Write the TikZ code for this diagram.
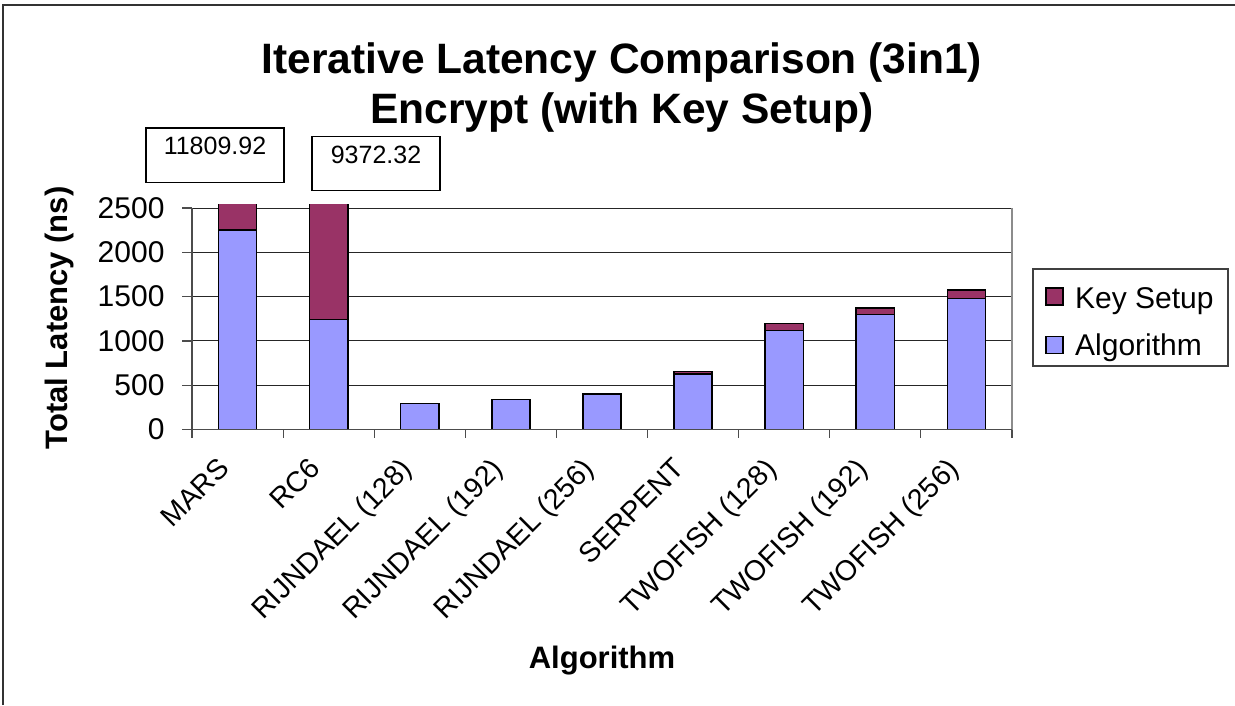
\documentclass[tikz,border=0pt]{standalone}
\usepackage{fontspec}
\setmainfont{Liberation Sans}
\definecolor{keysetup}{HTML}{993366}
\definecolor{algo}{HTML}{9999FF}
\tikzset{
    frame/.style = {
        line width=1.2pt,
        black!80
    },
    grid/.style = {
        line width=1pt,
        black!85
    },
    axis/.style = {
        line width=1.2pt,
        black!70
    },
    border/.style = {
        line width=1.2pt,
        black!45
    },
    algbar/.style = {
        fill=algo,
        draw=black,
        line width=1.6pt
    },
    keybar/.style = {
        fill=keysetup,
        draw=black,
        line width=1.6pt
    },
    heading/.style = {
        anchor=base, inner sep=0pt,
        font=\fontsize{42.5}{50}\selectfont\bfseries
    },
    axistitle/.style = {
        anchor=base, inner sep=0pt,
        font=\fontsize{31}{37}\selectfont\bfseries
    },
    ticklabel/.style = {
        anchor=east, inner sep=0pt,
        font=\fontsize{30}{36}\selectfont
    },
    catlabel/.style = {
        anchor=north east, rotate=45, inner sep=0pt,
        font=\fontsize{28.5}{34}\selectfont
    },
    valbox/.style = {
        draw, line width=1.2pt, anchor=north, inner sep=0pt,
        text height=27pt, text depth=27.5pt, minimum width=#1,
        font=\fontsize{25}{30}\selectfont
    },
    swatch/.style = {
        draw=black, line width=1.2pt, minimum size=17pt, inner sep=0pt
    },
    legendtext/.style = {
        anchor=base west, inner sep=0pt,
        font=\fontsize{30}{36}\selectfont
    }
}

\begin{document}
\begin{tikzpicture}[x=1pt, y=-1pt]
    \useasboundingbox (0,0) rectangle (1235,705);

    % Chart frame
    \draw[frame] (3,705) -- (3,5) -- (1235,5);

    % Draw titles
    \node[heading] (title1) at (622,73) {Iterative Latency Comparison (3in1)};
    \node[heading] (title2) at (622,123) {Encrypt (with Key Setup)};
    \node[axistitle, rotate=90] (ylabel) at (67,318) {Total Latency (ns)};
    \node[axistitle] (xlabel) at (602,668) {Algorithm};

    % Plot area, in data units
    \begin{scope}[shift={(192,429.5)}, x=91.11pt, y=0.0886pt]
        % Draw gridlines
        \draw[grid] (0,500) -- (9,500);
        \draw[grid] (0,1000) -- (9,1000);
        \draw[grid] (0,1500) -- (9,1500);
        \draw[grid] (0,2000) -- (9,2000);
        \draw[grid] (0,2500) -- (9,2500);
        \draw[border] (9,0) -- (9,2500);

        % Draw bars
        \begin{scope}
            \clip (0,-200) rectangle (9,2545);
            \draw[keybar] (0.29,2250) rectangle (0.71,11809.92);
            \draw[algbar] (0.29,0) rectangle (0.71,2250);
            \draw[keybar] (1.29,1242) rectangle (1.71,9372.32);
            \draw[algbar] (1.29,0) rectangle (1.71,1242);
        \end{scope}
        \draw[algbar] (2.29,0) rectangle (2.71,294);
        \draw[algbar] (3.29,0) rectangle (3.71,339);
        \draw[algbar] (4.29,0) rectangle (4.71,402);
        \draw[keybar] (5.29,625) rectangle (5.71,655);
        \draw[algbar] (5.29,0) rectangle (5.71,625);
        \draw[keybar] (6.29,1118) rectangle (6.71,1197);
        \draw[algbar] (6.29,0) rectangle (6.71,1118);
        \draw[keybar] (7.29,1299) rectangle (7.71,1373);
        \draw[algbar] (7.29,0) rectangle (7.71,1299);
        \draw[keybar] (8.29,1479) rectangle (8.71,1576);
        \draw[algbar] (8.29,0) rectangle (8.71,1479);

        % Draw axes and ticks
        \draw[axis] (0,0) -- (0,2500);
        \draw[axis] (0,0) -- (9,0);
        \draw[axis] (0,0) -- (-0.11,0) (0,500) -- (-0.11,500)
            (0,1000) -- (-0.11,1000) (0,1500) -- (-0.11,1500)
            (0,2000) -- (-0.11,2000) (0,2500) -- (-0.11,2500);
        \draw[axis] (0,0) -- (0,-95) (1,0) -- (1,-95) (2,0) -- (2,-95)
            (3,0) -- (3,-95) (4,0) -- (4,-95) (5,0) -- (5,-95)
            (6,0) -- (6,-95) (7,0) -- (7,-95) (8,0) -- (8,-95)
            (9,0) -- (9,-95);

        % Draw tick labels
        \node[ticklabel] (t0) at (-0.3,0) {0};
        \node[ticklabel] (t500) at (-0.3,500) {500};
        \node[ticklabel] (t1000) at (-0.3,1000) {1000};
        \node[ticklabel] (t1500) at (-0.3,1500) {1500};
        \node[ticklabel] (t2000) at (-0.3,2000) {2000};
        \node[ticklabel] (t2500) at (-0.3,2500) {2500};
    \end{scope}

    % Draw category labels
    \node[catlabel] (mars) at (216.6,456) {MARS};
    \node[catlabel] (rcsix) at (307.7,456) {RC6};
    \node[catlabel] (rijn128) at (398.8,456) {RIJNDAEL (128)};
    \node[catlabel] (rijn192) at (489.9,456) {RIJNDAEL (192)};
    \node[catlabel] (rijn256) at (581,456) {RIJNDAEL (256)};
    \node[catlabel] (serpent) at (672.1,456) {SERPENT};
    \node[catlabel] (twof128) at (763.2,456) {TWOFISH (128)};
    \node[catlabel] (twof192) at (854.3,456) {TWOFISH (192)};
    \node[catlabel] (twof256) at (945.4,456) {TWOFISH (256)};

    % Draw clipped values
    \node[valbox=138pt] (marsval) at (215,127.3) {11809.92};
    \node[valbox=128pt] (rcsixval) at (376,135.7) {9372.32};

    % Draw legend
    \node[draw, line width=1.2pt, black!75, minimum width=195pt,
        minimum height=97pt, inner sep=0pt] (legend) at (1130.5,317.5) {};
    \node[swatch, fill=keysetup] (keysw) at (1054.5,296.5) {};
    \node[swatch, fill=algo] (algsw) at (1054.5,345) {};
    \node[legendtext] (keytext) at (1075,308) {Key Setup};
    \node[legendtext] (algtext) at (1075,355.5) {Algorithm};
\end{tikzpicture}
\end{document}
